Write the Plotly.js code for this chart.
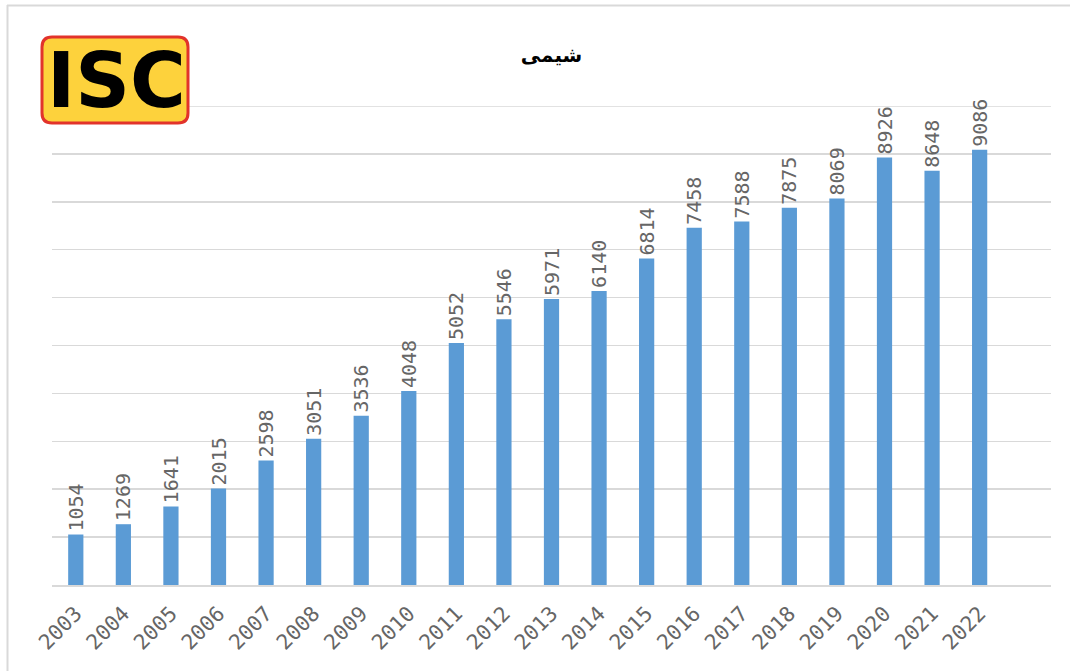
<!DOCTYPE html>
<html>
<head>
<meta charset="utf-8">
<script src="https://cdn.plot.ly/plotly-3.0.1.min.js"></script>
<style>html,body{margin:0;padding:0;background:#fff;}#chart{width:1070px;height:671px;}</style>
</head>
<body>
<div id="chart"></div>
<script>
const years = ['2003','2004','2005','2006','2007','2008','2009','2010','2011','2012','2013','2014','2015','2016','2017','2018','2019','2020','2021','2022'];
const values = [1054,1269,1641,2015,2598,3051,3536,4048,5052,5546,5971,6140,6814,7458,7588,7875,8069,8926,8648,9086];
const chartTitle = 'شیمی';
const logoText = 'ISC';

const W = 1070, H = 671;
const M = {l: 52, r: 19, t: 106, b: 86};
const pw = W - M.l - M.r, ph = H - M.t - M.b;
const px = x => (x - M.l) / pw;
const py = y => (H - M.b - y) / ph;

function rrect(x0, y0, x1, y1, r) {
  return `M${px(x0+r)},${py(y0)} L${px(x1-r)},${py(y0)} Q${px(x1)},${py(y0)} ${px(x1)},${py(y0+r)} ` +
         `L${px(x1)},${py(y1-r)} Q${px(x1)},${py(y1)} ${px(x1-r)},${py(y1)} L${px(x0+r)},${py(y1)} ` +
         `Q${px(x0)},${py(y1)} ${px(x0)},${py(y1-r)} L${px(x0)},${py(y0+r)} Q${px(x0)},${py(y0)} ${px(x0+r)},${py(y0)} Z`;
}

const trace = {
  type: 'bar',
  x: years,
  y: values,
  width: 0.32,
  marker: {color: '#5b9bd5'},
  text: values.map(String),
  textposition: 'outside',
  textangle: -90,
  constraintext: 'none',
  cliponaxis: false,
  textfont: {family: 'DejaVu Sans Mono', size: 20, color: '#666666'},
  hoverinfo: 'x+y'
};

const layout = {
  width: W, height: H,
  margin: M,
  paper_bgcolor: '#fff', plot_bgcolor: '#fff',
  showlegend: false,
  bargap: 0.68,
  title: {text: '<b>' + chartTitle + '</b>', x: 0.5, xref: 'paper', y: 1 - 55/H, yanchor: 'middle',
          font: {family: 'DejaVu Sans', size: 20, color: '#000'}},
  xaxis: {
    type: 'category', range: [-0.5, 20.5],
    tickangle: -45, tickfont: {family: 'DejaVu Sans Mono', size: 21, color: '#666666'},
    ticklabelstandoff: 6,
    showgrid: false, showline: true, linecolor: '#d9d9d9', linewidth: 2,
    ticks: '', ticklen: 0, zeroline: false, fixedrange: true
  },
  yaxis: {
    range: [0, 10000], dtick: 1000, showticklabels: false,
    showgrid: true, gridcolor: '#d9d9d9', gridwidth: 1.5,
    zeroline: false, showline: false, ticks: '', fixedrange: true
  },
  shapes: [
    {type: 'line', xref: 'paper', yref: 'y', x0: 0, x1: 1, y0: 10000, y1: 10000, line: {color: '#d9d9d9', width: 1.5}, layer: 'below'},
    {type: 'line', xref: 'paper', yref: 'paper', x0: px(7), x1: px(1070), y0: py(5.5), y1: py(5.5), line: {color: '#d9d9d9', width: 2}},
    {type: 'line', xref: 'paper', yref: 'paper', x0: px(7.5), x1: px(7.5), y0: py(5), y1: py(671), line: {color: '#d9d9d9', width: 2}},
    {type: 'path', xref: 'paper', yref: 'paper', path: rrect(42, 37, 188, 123, 10), fillcolor: '#fdd23c', line: {color: '#e2332b', width: 3}}
  ],
  annotations: [
    {text: '<b>' + logoText + '</b>', xref: 'paper', yref: 'paper', x: px(116), y: py(80), xanchor: 'center', yanchor: 'middle',
     showarrow: false, font: {family: 'DejaVu Sans', size: 76, color: '#000'}}
  ]
};

Plotly.newPlot('chart', [trace], layout, {displayModeBar: false, staticPlot: true});
</script>
</body>
</html>
